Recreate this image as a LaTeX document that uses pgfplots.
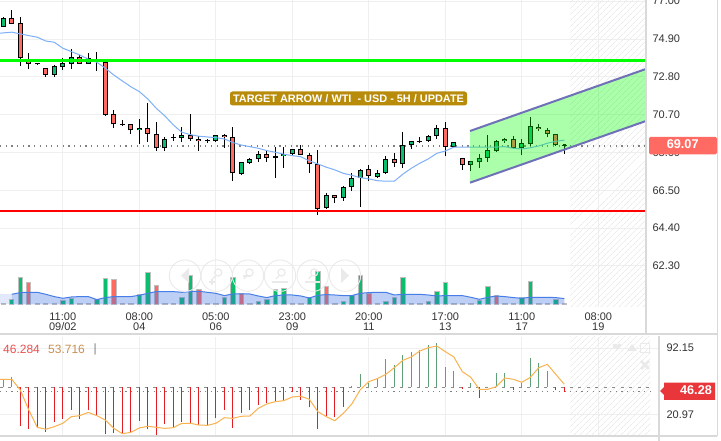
\documentclass[border=0pt]{standalone}
\usepackage{fontspec}
\setmainfont{Liberation Sans}
\usepackage{pgfplots}
\usepackage{pgfplotstable}
\pgfplotsset{compat=1.18}
\usetikzlibrary{patterns.meta}

\definecolor{upc}{HTML}{0ABE6E}
\definecolor{dnc}{HTML}{FF6B63}
\definecolor{gridc}{HTML}{EFEFEF}
\definecolor{sepc}{HTML}{D9D9D9}
\definecolor{mac}{HTML}{7DB0F8}
\definecolor{navc}{HTML}{EAEAEA}

% candles: index, body low, body high, wick low, wick high
\pgfplotstableread{
i lo hi wl wh
0 75.59 76.05 75.59 76.10
6 72.92 73.39 72.79 73.48
7 73.36 73.55 73.20 73.83
8 73.50 73.92 73.24 74.33
10 73.50 73.83 73.50 74.11
16 69.83 69.94 69.09 70.44
19 68.83 69.33 68.70 69.44
21 69.39 69.55 69.20 70.00
25 69.22 69.55 69.20 69.57
28 67.42 68.05 67.36 68.09
29 68.03 68.22 67.98 68.28
30 68.22 68.50 68.09 68.70
33 68.39 68.50 67.75 68.89
34 68.50 68.78 68.49 68.79
38 65.50 66.22 65.44 66.33
40 66.05 66.66 65.89 66.72
41 66.66 67.16 66.44 67.44
42 67.16 67.61 65.55 67.66
44 67.22 67.44 67.16 67.61
45 67.44 68.22 67.39 68.39
47 67.94 69.00 67.72 69.72
48 69.00 69.22 68.78 69.25
50 69.22 69.50 69.16 69.55
51 69.50 69.94 69.33 70.11
53 68.89 69.16 68.83 69.20
55 67.89 68.11 67.59 68.13
56 68.05 68.28 67.75 68.50
57 68.28 68.72 68.05 69.55
58 68.66 69.22 68.65 69.28
59 69.22 69.33 69.11 69.39
61 68.83 69.11 68.44 69.33
62 69.05 70.05 68.94 70.55
}\upT
\pgfplotstableread{
i lo hi wl wh
1 75.72 76.05 75.72 76.51
2 73.83 75.78 73.42 76.11
3 73.50 73.81 73.24 74.11
5 72.92 73.28 72.81 73.29
9 73.50 73.92 73.50 74.01
11 73.61 73.81 73.14 74.20
12 70.70 73.61 70.66 73.64
13 70.16 70.72 69.98 70.94
15 69.83 70.16 69.64 70.18
17 69.61 69.94 69.20 71.36
18 68.83 69.61 68.70 70.28
22 69.33 69.55 69.25 70.72
23 69.22 69.33 68.70 69.53
26 69.44 69.55 68.83 69.61
27 67.44 69.44 67.03 70.03
31 68.31 68.50 68.09 68.68
35 68.44 68.78 68.44 69.00
36 67.94 68.44 67.44 68.55
37 65.44 67.94 65.13 68.72
39 66.05 66.22 65.81 66.24
43 67.28 67.66 67.00 67.89
46 68.00 68.22 67.78 68.55
52 68.89 69.94 68.39 70.28
54 67.89 68.28 67.64 68.29
60 68.83 69.33 68.82 69.50
63 69.89 70.00 69.78 70.16
64 69.61 69.83 69.44 69.94
65 69.00 69.61 68.94 69.63
}\dnT
\pgfplotstableread{
i lo hi wl wh
4 73.49 73.54 73.46 73.57
14 70.14 70.18 70.07 70.39
20 69.40 69.44 69.24 69.61
24 69.22 69.28 69.11 69.33
32 68.31 68.39 67.20 68.89
49 69.20 69.24 69.11 69.44
66 69.00 69.02 68.50 69.05
}\dojiT

% volume
\pgfplotstableread{
i v
1 5
2 26.7
7 3.7
8 5.3
11 4.7
12 25.7
16 9.3
17 31.7
21 6.7
22 28.7
26 6.3
27 26.7
30 2.7
31 4.7
32 14.7
33 15.7
36 6.3
37 32.7
40 2.7
41 8.7
42 28.7
45 2.7
46 6.7
47 26.7
50 2.7
51 12.7
52 21.7
56 4
57 17.7
61 6.7
62 22.7
65 4.7
}\volUp
\pgfplotstableread{
i v
3 21.7
13 24.7
18 18.7
23 14.7
28 10.7
38 17.7
43 10.7
58 8.7
}\volDn
\pgfplotstableread{
i v
0 1
4 1
5 1
6 1
9 1
10 1
14 1
15 1
19 1
20 1
24 1
25 1
29 1
34 1
35 1
39 1
44 1
48 1
49 1
53 1
54 1
55 1
59 1
60 1
63 1
64 1
66 1
}\volZero
\pgfplotstableread{
i v
1 10
2 11.7
3 12
4 12
5 10
6 7.7
7 6
8 7.3
9 7.7
10 7.7
11 4.7
12 6.7
13 7.7
14 7.7
15 7.7
16 9
17 11
18 12.7
19 12.7
20 12.7
21 12
22 12.7
23 13
24 12
25 11
26 8.7
27 10.3
28 10.3
29 10.3
30 8.3
31 6.7
32 8.7
33 9.3
34 9.3
35 8.3
36 6.3
37 9
38 9.7
39 9.3
40 8.7
41 8.7
42 11
43 11.7
44 12
45 12
46 9.3
47 10
48 10
49 10
50 9.3
51 8.3
52 8.7
53 8.7
54 8.7
55 7
56 5
57 7
58 8.3
59 7.7
60 6.7
61 6
62 7
63 7
64 7
65 6.7
66 5.7
}\volMA

% lower panel histogram
\pgfplotstableread{
i v
2 9.0
3 5.1
4 6.1
5 1.8
6 13.3
7 16.5
8 25.7
9 16.1
10 25.4
11 20.4
12 -0.3
13 0.8
14 1.5
15 2.6
16 14.3
17 5.1
18 -1.0
19 10.4
20 7.9
21 13.3
22 11.5
23 9.7
24 9.7
25 16.8
26 25.7
27 6.8
28 22.2
29 25.7
30 31.1
31 33.6
32 35.7
33 36.4
34 45.4
35 36.4
36 28.6
37 5.1
38 19.3
39 17.9
40 29.3
54 48.6
56 38.9
60 46.8
65 46.8
66 45.4
}\histDn
\pgfplotstableread{
i v
0 58.9
1 60.7
41 51.8
42 63.9
43 54.3
44 58.9
45 80.0
46 73.5
47 84.2
48 88.2
49 89.9
50 95.3
51 97.1
52 71.4
53 67.8
55 54.3
58 65.3
59 65.3
61 54.3
62 81.0
63 75.7
64 67.1
}\histUp

\newcommand{\candleset}[2]{
  \addplot[draw=none, forget plot, error bars/.cd, y dir=both, y explicit, error mark=none,
    error bar style={draw=black, line width=1pt}]
    table[x=i, y=lo, y error plus expr=\thisrow{wh}-\thisrow{lo}, y error minus expr=\thisrow{lo}-\thisrow{wl}] {#1};
  \addplot[draw=none, forget plot, error bars/.cd, y dir=plus, y explicit, error mark=none,
    error bar style={draw=black, line width=5pt}]
    table[x=i, y=lo, y error plus expr=\thisrow{hi}-\thisrow{lo}] {#1};
  \addplot[draw=none, forget plot, error bars/.cd, y dir=plus, y explicit, error mark=none,
    error bar style={draw=#2, line width=3pt}]
    table[x=i, y expr=\thisrow{lo}+0.05, y error plus expr=\thisrow{hi}-\thisrow{lo}-0.1] {#1};
}

\pgfplotsset{
  panel/.style={
    scale only axis, anchor=south west,
    axis line style={draw=none}, major tick length=0pt,
    grid=major, grid style={gridc, line width=0.8pt},
    tick label style={font=\fontsize{11}{10}\selectfont, text=black!80},
    /pgf/number format/assume math mode=true,
    /pgf/number format/fixed, /pgf/number format/fixed zerofill, /pgf/number format/precision=2,
    yticklabel pos=right, clip=true,
  }
}

\begin{document}
\begin{tikzpicture}
\fill[white] (0,0) rectangle (721pt,441pt);
\path[use as bounding box] (0,0) rectangle (721pt,441pt);

% price panel
\begin{axis}[panel,
  at={(0pt,134pt)}, width=646pt, height=307pt,
  xmin=-0.388, xmax=75.61, ymin=60.014, ymax=77.067,
  xtick={7,16,25,34,43,52,61,70},
  xticklabels={{11:00\\09/02},{08:00\\04},{05:00\\06},{23:00\\09},{20:00\\11},{17:00\\13},{11:00\\17},{08:00\\19}},
  xticklabel style={align=center, yshift=-2pt},
  ytick={62.30,64.40,66.50,68.60,70.70,72.80,74.90,77.00},
  yticklabel style={anchor=west, xshift=3pt},
]
\addplot[draw=none, pattern={Lines[angle=45,distance=4pt,line width=0.7pt]}, pattern color=black!8, forget plot]
  coordinates {(66.67,60.014)(66.67,77.067)(75.61,77.067)(75.61,60.014)} --cycle;
% last price
\addplot[black!50, line width=1.3pt, dash pattern=on 1.2pt off 4.5pt, forget plot] coordinates {(-0.388,68.96)(75.61,68.96)};
\candleset{\upT}{upc}
\candleset{\dnT}{dnc}
\candleset{\dojiT}{black}
% moving average
\addplot[mac, line width=1pt, forget plot] coordinates {
(-0.388,75.22)(0,75.24)(1,75.28)(2,75.18)(3,75.09)(4,75.00)(5,74.79)(6,74.72)(7,74.39)(8,74.20)(9,74.01)
(10,73.78)(11,73.61)(12,73.28)(13,72.90)(14,72.57)(15,72.25)(16,71.98)(17,71.57)(18,71.05)(19,70.63)
(20,70.13)(21,69.72)(22,69.59)(23,69.50)(24,69.46)(25,69.42)(26,69.35)(27,69.15)(28,69.01)(29,68.92)
(30,68.83)(31,68.70)(32,68.61)(33,68.50)(34,68.42)(35,68.36)(36,68.13)(37,67.96)(38,67.78)(39,67.63)
(40,67.44)(41,67.33)(42,67.20)(43,67.13)(44,67.03)(45,67.00)(46,67.00)(47,67.39)(48,67.72)(49,68.00)
(50,68.24)(51,68.55)(52,68.68)(53,68.89)(54,68.89)(55,68.89)(56,68.89)(57,68.89)(58,68.90)(59,68.92)
(60,68.83)(61,68.79)(62,68.86)(63,68.96)(64,69.11)(65,69.22)(66,69.28)};
% channel
\addplot[draw=none, fill={rgb,255:red,0;green,255;blue,0}, fill opacity=0.33, forget plot]
  coordinates {(54.906,66.92)(54.906,69.79)(75.69,73.25)(75.69,70.36)} --cycle;
\addplot[color={rgb,255:red,112;green,112;blue,184}, line width=2pt, forget plot] coordinates {(54.906,69.79)(75.69,73.25)};
\addplot[color={rgb,255:red,112;green,112;blue,184}, line width=2pt, forget plot] coordinates {(54.906,66.92)(75.69,70.36)};
% levels
\addplot[color={rgb,255:red,0;green,255;blue,0}, line width=3pt, forget plot] coordinates {(-0.388,73.68)(75.61,73.68)};
\addplot[red, line width=2pt, forget plot] coordinates {(-0.388,65.37)(75.61,65.37)};
\end{axis}

% volume, same x range, one unit is one pixel above the base line
\begin{axis}[
  scale only axis, anchor=south west, at={(0pt,134pt)}, width=646pt, height=307pt,
  xmin=-0.388, xmax=75.61, ymin=-2.7, ymax=304.3, axis lines=none,
]
\addplot[ybar, bar width=4.4pt, bar shift=0pt, draw=black!25, line width=1pt, fill=upc, forget plot] table[x=i,y=v] {\volUp};
\addplot[ybar, bar width=4.4pt, bar shift=0pt, draw=black!25, line width=1pt, fill=dnc, forget plot] table[x=i,y=v] {\volDn};
\addplot[ybar, bar width=4.4pt, bar shift=0pt, draw=black!25, line width=1pt, fill=black!25, forget plot] table[x=i,y=v] {\volZero};
\addplot[draw=none, fill={rgb,255:red,60;green,110;blue,225}, fill opacity=0.33, forget plot] table[x=i,y=v] {\volMA} \closedcycle;
\addplot[draw=none, fill={rgb,255:red,60;green,110;blue,225}, fill opacity=0.15, forget plot] coordinates {(-0.388,10)(1,10)} \closedcycle;
\addplot[color={rgb,255:red,70;green,125;blue,230}, line width=1pt, forget plot] table[x=i,y=v] {\volMA};
\end{axis}

% oscillator panel
\begin{axis}[panel,
  at={(0pt,5pt)}, width=659pt, height=99pt,
  xmin=-0.388, xmax=77.14, ymin=-2.08, ymax=103.86,
  xtick={7,16,25,34,43,52,61,70}, xticklabels={},
  ytick={20.97,92.15},
  yticklabel style={anchor=west, xshift=4pt},
]
\addplot[draw=none, pattern={Lines[angle=45,distance=4pt,line width=0.7pt]}, pattern color=black!8, forget plot]
  coordinates {(66.67,-2.08)(66.67,103.86)(76.16,103.86)(76.16,-2.08)} --cycle;
\addplot[black!45, line width=0.8pt, dash pattern=on 3pt off 5.5pt, forget plot] coordinates {(-0.388,50)(76.16,50)};
\addplot[black!50, line width=1.3pt, dash pattern=on 1.2pt off 4.5pt, forget plot] coordinates {(-0.388,45.5)(76.16,45.5)};
\addplot[draw=none, forget plot, error bars/.cd, y dir=plus, y explicit, error mark=none,
  error bar style={draw={rgb,255:red,225;green,30;blue,35}, line width=1pt}]
  table[x=i, y=v, y error plus expr=50-\thisrow{v}] {\histDn};
\addplot[draw=none, forget plot, error bars/.cd, y dir=minus, y explicit, error mark=none,
  error bar style={draw={rgb,255:red,95;green,160;blue,120}, line width=1pt}]
  table[x=i, y=v, y error minus expr=\thisrow{v}-50] {\histUp};
\addplot[color={rgb,255:red,249;green,178;blue,78}, line width=1pt, forget plot] coordinates {
(-0.388,58.6)(1,58.6)(2,47.1)(3,25.7)(4,7.2)(5,5.1)(6,7.9)(7,11.5)(8,18.6)(9,19.7)
(10,23.2)(11,19.7)(12,15.0)(13,6.1)(14,0.4)(15,1.8)(16,6.5)(17,8.3)(18,7.2)(19,6.1)
(20,6.8)(21,11.5)(22,11.5)(23,9.7)(24,9.3)(25,11.5)(26,17.5)(27,16.8)(28,19.0)(29,19.3)
(30,27.5)(31,32.2)(32,34.7)(33,35.7)(34,39.7)(35,40.4)(36,37.2)(37,24.0)(38,18.6)(39,14.3)
(40,22.2)(41,32.2)(42,47.5)(43,56.1)(44,59.3)(45,63.9)(46,71.0)(47,78.9)(48,82.5)(49,88.9)
(50,92.4)(51,94.2)(52,88.2)(53,82.5)(54,66.8)(55,60.7)(56,47.9)(57,47.9)(58,50.7)(59,60.0)
(60,58.6)(61,55.4)(62,60.7)(63,71.0)(64,74.6)(65,63.9)(66,53.2)};
\end{axis}

% chart furniture, in pixels of the picture from its top left corner
\begin{scope}[x=1pt, y=-1pt, yshift=441pt]
  % separators
  \draw[sepc, line width=2pt] (646,0) -- (646,334);
  \draw[sepc, line width=2pt] (0,334.5) -- (717,334.5);
  \draw[sepc, line width=2pt] (659,336) -- (659,441);
  \draw[sepc, line width=2pt] (0,436.5) -- (717,436.5);
  \draw[sepc, line width=1pt] (717,0) -- (717,436);
  % title tag
  \fill[fill={rgb,255:red,184;green,140;blue,10}, rounded corners=2.5pt] (230,91.5) rectangle (467,105.5);
  \node[text=white, font=\bfseries\fontsize{10.9}{12}\selectfont, inner sep=0pt] at (348.5,98.5) {TARGET ARROW / WTI\ \ - USD - 5H / UPDATE};
  % price tags
  \fill[fill=dnc, rounded corners=1.5pt] (649,137) rectangle (717,154.3);
  \node[text=white, font=\bfseries\fontsize{12.7}{13}\selectfont, inner sep=0pt] at (682.7,144.5) {69.07};
  \fill[fill={rgb,255:red,232;green,54;blue,59}] (660,391) -- (664,387) -- (664,382.7) -- (715,382.7) -- (715,400) -- (664,400) -- (664,395) -- cycle;
  \node[text=white, font=\bfseries\fontsize{12.7}{13}\selectfont, inner sep=0pt] at (696,390) {46.28};
  % oscillator legend
  \node[anchor=west, inner sep=0pt, text={rgb,255:red,232;green,80;blue,80}, font=\fontsize{12}{12}\selectfont] at (3,349) {46.284};
  \node[anchor=west, inner sep=0pt, text={rgb,255:red,200;green,144;blue,80}, font=\fontsize{12}{12}\selectfont] at (48,349) {53.716};
  \node[anchor=west, inner sep=0pt, text=black!50, font=\fontsize{12}{12}\selectfont] at (93.5,349) {|};
  % oscillator icons
  \fill[navc] (617,350) -- (612.5,346) .. controls (613,343) and (616,343) .. (617,345.5) .. controls (618,343) and (621,343) .. (621.5,346) -- cycle;
  \fill[navc] (627,351) -- (632,344) -- (637,351) -- cycle;
  \draw[navc, line width=1pt] (640,343.5) rectangle (649.5,352.5);
  \draw[navc, line width=2.5pt] (641,361) -- (649,369) (649,361) -- (641,369);
  % navigation buttons
  \foreach \cx in {185,216.7,248,280,312.7,345} \draw[navc, line width=0.9pt] (\cx,275.7) circle (15.7);
  \fill[navc] (181,275.7) -- (189,268) -- (189,283) -- cycle;
  \fill[navc] (349,275.7) -- (341,268) -- (341,283) -- cycle;
  \foreach \cx in {216.7,248,280,312.7} {
    \draw[navc, line width=1.2pt] (\cx+1.5,272.5) circle (3.6) (\cx-1,275.5) -- (\cx-4,279);
  }
  \draw[navc, line width=1.2pt] (209,282) -- (215,282) (212,279) -- (212,285);
  \draw[navc, line width=1.2pt] (243,276) -- (251,276);
  \draw[navc, line width=1.2pt] (272,282) -- (288,282) (305,282) -- (320,282);
\end{scope}
\end{tikzpicture}
\end{document}
